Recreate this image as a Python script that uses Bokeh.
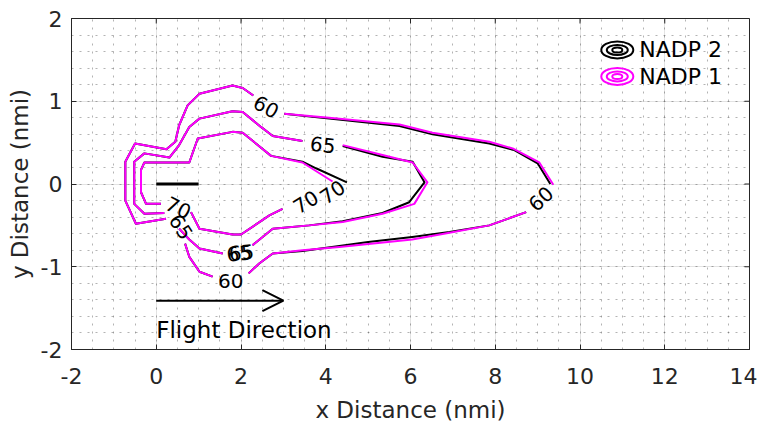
import numpy as np
from bokeh.plotting import figure
from bokeh.models import Range1d, SingleIntervalTicker, Arrow, OpenHead
from bokeh.core.properties import value
from bokeh.embed import file_html
from bokeh.resources import INLINE

nan = np.nan

# ---------------- data (nmi), nan = gap left for a contour label ----------------
# NADP 1 (magenta) contours
nadp1_60_x = [0.23, -0.48, -0.73, -0.73, -0.50, 0.24, 0.45, 0.54, 0.74, 1.02, 1.80, 2.04, 2.29, nan,
              3.02, 4.08, 5.74, 6.52, 7.86, 8.41, 9.04, 9.37, nan,
              8.73, 7.86, 6.92, 6.04, 4.32, 3.45, 2.75, 2.43, 2.18, nan,
              1.33, 1.02, 0.78, 0.68]
nadp1_60_y = [-0.42, -0.48, -0.20, 0.27, 0.49, 0.42, 0.51, 0.71, 0.95, 1.09, 1.19, 1.16, 1.07, nan,
              0.85, 0.80, 0.72, 0.62, 0.51, 0.43, 0.26, -0.01, nan,
              -0.34, -0.50, -0.59, -0.67, -0.76, -0.80, -0.84, -0.96, -1.08, nan,
              -1.12, -1.06, -0.88, -0.72]
nadp1_65_x = [0.19, -0.28, -0.52, -0.52, -0.28, 0.31, 0.54, 0.78, 1.02, 1.80, 2.04, 2.47, 2.75, 3.45, nan,
              4.40, 5.34, 6.05, 6.40, 6.09, 5.34, 4.40, 3.61, 2.75, 2.27, nan,
              1.57, 1.02, 0.78, 0.54]
nadp1_65_y = [-0.35, -0.36, -0.24, 0.27, 0.37, 0.32, 0.47, 0.69, 0.79, 0.88, 0.87, 0.69, 0.58, 0.52, nan,
              0.47, 0.35, 0.26, 0.02, -0.24, -0.36, -0.46, -0.50, -0.54, -0.74, nan,
              -0.84, -0.78, -0.67, -0.54]
nadp1_70_x = [0.11, -0.24, -0.36, -0.36, -0.28, 0.78, 0.98, 1.80, 2.04, 2.71, 3.45, 4.16, nan,
              2.98, 2.67, 2.00, 1.80, 1.02, 0.82]
nadp1_70_y = [-0.24, -0.24, -0.10, 0.17, 0.26, 0.26, 0.55, 0.63, 0.62, 0.34, 0.26, 0.03, nan,
              -0.30, -0.38, -0.61, -0.61, -0.54, -0.34]

# NADP 2 (black) contours
nadp2_60_x = [0.23, -0.48, -0.73, -0.73, -0.50, 0.24, 0.45, 0.54, 0.74, 1.02, 1.80, 2.04, 2.29, nan,
              3.02, 4.08, 5.74, 6.52, 7.86, 8.45, 9.00, 9.30, nan,
              8.73, 7.86, 6.92, 6.04, 5.00, 4.32, 3.45, 2.75, 2.43, 2.18, nan,
              1.33, 1.02, 0.78, 0.68]
nadp2_60_y = [-0.42, -0.48, -0.20, 0.27, 0.49, 0.42, 0.51, 0.71, 0.95, 1.09, 1.19, 1.16, 1.07, nan,
              0.85, 0.79, 0.70, 0.60, 0.49, 0.41, 0.25, 0.00, nan,
              -0.34, -0.50, -0.58, -0.64, -0.70, -0.75, -0.81, -0.84, -0.96, -1.08, nan,
              -1.12, -1.06, -0.88, -0.72]
nadp2_65_x = [0.19, -0.28, -0.52, -0.52, -0.28, 0.31, 0.54, 0.78, 1.02, 1.80, 2.04, 2.47, 2.75, 3.45, nan,
              4.40, 5.34, 6.05, 6.33, 5.97, 5.34, 4.40, 3.61, 2.75, 2.27, nan,
              1.57, 1.02, 0.78, 0.54]
nadp2_65_y = [-0.35, -0.36, -0.24, 0.27, 0.37, 0.32, 0.47, 0.69, 0.79, 0.88, 0.87, 0.69, 0.58, 0.52, nan,
              0.46, 0.33, 0.27, 0.02, -0.22, -0.35, -0.45, -0.50, -0.54, -0.74, nan,
              -0.84, -0.78, -0.67, -0.54]
nadp2_70_x = [0.11, -0.24, -0.36, -0.36, -0.28, 0.78, 0.98, 1.80, 2.04, 2.71, 3.45, 3.77, 4.50, nan,
              2.98, 2.67, 2.00, 1.80, 1.02, 0.82]
nadp2_70_y = [-0.24, -0.24, -0.10, 0.17, 0.26, 0.26, 0.55, 0.63, 0.62, 0.34, 0.27, 0.19, 0.02, nan,
              -0.30, -0.38, -0.61, -0.61, -0.54, -0.34]

# contour labels
clabel_text = ["60", "65", "60", "70", "70", "70", "65", "65", "65", "60"]
clabel_x = [2.59, 3.93, 9.08, 3.53, 4.16, 0.52, 0.58, 1.96, 2.01, 1.76]
clabel_y = [0.93, 0.47, -0.18, -0.22, -0.10, -0.29, -0.52, -0.84, -0.83, -1.17]
clabel_angle = [-0.50, -0.12, 0.75, 0.55, 0.60, -0.45, -1.00, 0.10, 0.10, 0.0]

# annotations
bar_x = [0, 1]
bar_y = [0, 0]
arrow_x = [0, 3]
arrow_y = [-1.41, -1.41]
note_text = ["Flight Direction"]
note_x = [0]
note_y = [-1.76]

# axes ticks
x_tick_values = [-2, 0, 2, 4, 6, 8, 10, 12, 14]
x_tick_labels = ["-2", "0", "2", "4", "6", "8", "10", "12", "14"]
y_tick_values = [-2, -1, 0, 1, 2]
y_tick_labels = ["-2", "-1", "0", "1", "2"]

# legend
legend_labels = ["NADP 2", "NADP 1"]
legend_colors = ["black", "#ff00ff"]

FONT = "DejaVu Sans"
TXT = "#262626"
X0, X1, Y0, Y1 = -2, 14, -2, 2
FW, FH = 678, 331

p = figure(frame_width=FW, frame_height=FH, output_backend="svg", toolbar_location=None,
           x_range=Range1d(X0, X1), y_range=Range1d(Y0, Y1),
           min_border_left=71, min_border_right=8, min_border_top=18, min_border_bottom=62,
           background_fill_color="white", border_fill_color="white")
p.outline_line_color = TXT
p.outline_line_width = 1

xt = SingleIntervalTicker(interval=2, num_minor_ticks=4)
yt = SingleIntervalTicker(interval=1, num_minor_ticks=5)
p.xaxis.ticker = xt
p.yaxis.ticker = yt
p.xgrid.ticker = xt
p.ygrid.ticker = yt
p.xaxis.major_label_overrides = {v: s for v, s in zip(x_tick_values, x_tick_labels)}
p.yaxis.major_label_overrides = {v: s for v, s in zip(y_tick_values, y_tick_labels)}
for g in (p.xgrid, p.ygrid):
    g.grid_line_color = TXT
    g.grid_line_alpha = 0.13
    g.grid_line_width = 1
    g.minor_grid_line_color = TXT
    g.minor_grid_line_alpha = 0.35
    g.minor_grid_line_dash = "2 6"
    g.minor_grid_line_width = 1

p.xaxis.axis_label = "x Distance (nmi)"
p.yaxis.axis_label = "y Distance (nmi)"
for ax in (p.xaxis[0], p.yaxis[0]):
    ax.axis_line_color = TXT
    ax.major_tick_line_color = TXT
    ax.major_tick_in = 5
    ax.major_tick_out = 0
    ax.minor_tick_in = 0
    ax.minor_tick_out = 0
    ax.major_label_text_font = FONT
    ax.major_label_text_font_size = "22px"
    ax.major_label_text_color = TXT
    ax.axis_label_text_font = FONT
    ax.axis_label_text_font_size = "23px"
    ax.axis_label_text_font_style = "normal"
    ax.axis_label_text_color = TXT
p.xaxis.major_label_standoff = 18
p.xaxis.axis_label_standoff = 10
p.yaxis.major_label_standoff = 9
p.yaxis.axis_label_standoff = 5

# inward ticks on the top and right edges of the box
tk_dy = 5 * (Y1 - Y0) / FH
tk_dx = 5 * (X1 - X0) / FW
p.segment(x0=x_tick_values, y0=[Y1] * len(x_tick_values), x1=x_tick_values,
          y1=[Y1 - tk_dy] * len(x_tick_values), line_color=TXT, line_width=1)
p.segment(x0=[X1] * len(y_tick_values), y0=y_tick_values, x1=[X1 - tk_dx] * len(y_tick_values),
          y1=y_tick_values, line_color=TXT, line_width=1)

# contours: NADP 2 under NADP 1
for xs, ys in ((nadp2_60_x, nadp2_60_y), (nadp2_65_x, nadp2_65_y), (nadp2_70_x, nadp2_70_y)):
    p.line(xs, ys, line_color=legend_colors[0], line_width=2, line_join="round")
for xs, ys in ((nadp1_60_x, nadp1_60_y), (nadp1_65_x, nadp1_65_y), (nadp1_70_x, nadp1_70_y)):
    p.line(xs, ys, line_color=legend_colors[1], line_width=2, line_join="round")

p.text(x=clabel_x, y=clabel_y, text=clabel_text, angle=clabel_angle,
       text_font=value(FONT), text_font_size="20px", text_color="black",
       text_align="center", text_baseline="middle")

# flight direction marks
p.line(bar_x, bar_y, line_color="black", line_width=3)
p.add_layout(Arrow(end=OpenHead(size=21, line_width=2, line_color="black"),
                   x_start=arrow_x[0], y_start=arrow_y[0], x_end=arrow_x[1], y_end=arrow_y[1],
                   line_width=2, line_color="black"))
p.text(x=note_x, y=note_y, text=note_text, text_font=value(FONT), text_font_size="23px",
       text_color="black", text_align="left", text_baseline="alphabetic")

# legend (concentric contour icons)
leg_icon_x = 10.88
leg_text_x = 11.40
leg_y = [1.62, 1.30]
for (w, h) in ((32, 17), (21, 10), (10, 5)):
    p.ellipse(x=[leg_icon_x] * 2, y=leg_y, width=w, height=h,
              width_units="screen", height_units="screen",
              fill_color=None, line_color=legend_colors, line_width=2)
p.text(x=[leg_text_x] * 2, y=leg_y, text=legend_labels, text_font=value(FONT),
       text_font_size="22px", text_color="black", text_align="left", text_baseline="middle")

open("out.html", "w").write(file_html(p, INLINE))
